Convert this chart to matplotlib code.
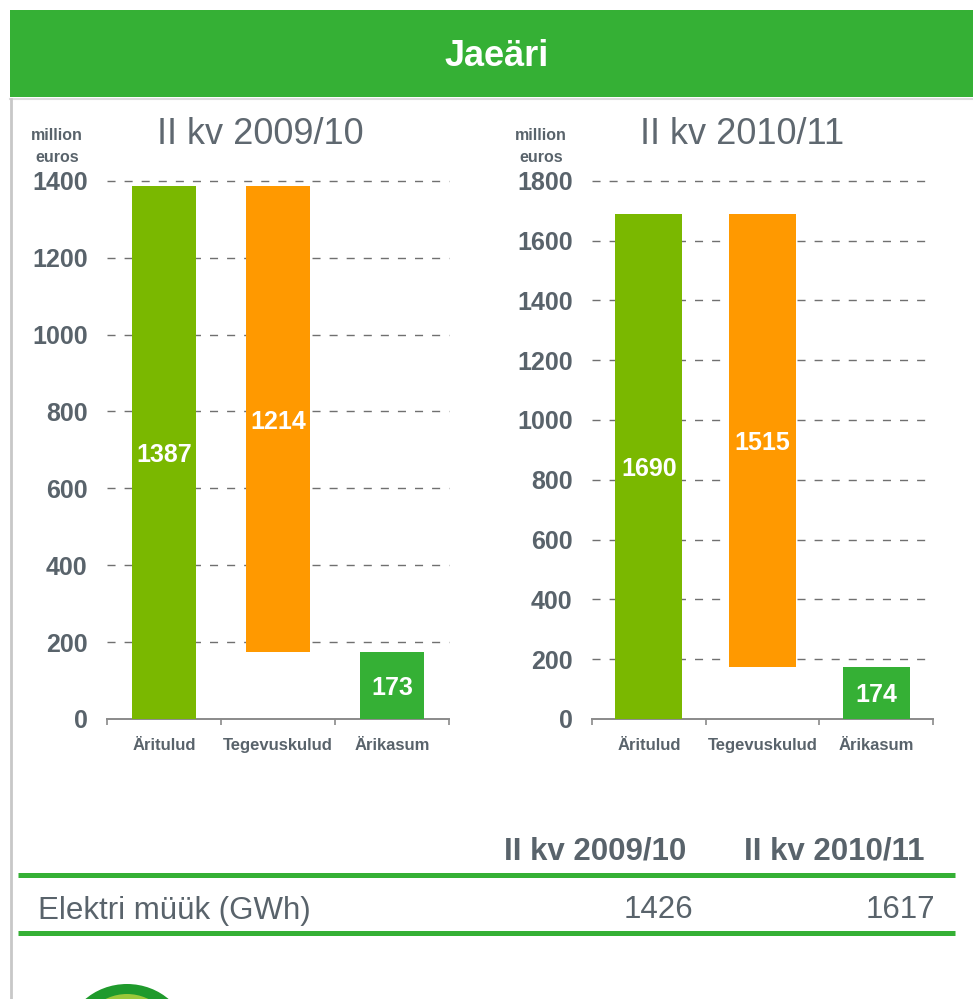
import matplotlib
matplotlib.use("Agg")
from matplotlib import pyplot as plt
from matplotlib.patches import Rectangle, Ellipse

plt.rcParams["font.family"] = ["Liberation Sans", "DejaVu Sans"]

# data
categories = ["Äritulud", "Tegevuskulud", "Ärikasum"]
periods = ["II kv 2009/10", "II kv 2010/11"]
revenue = [1387, 1690]
costs = [1214, 1515]
profit = [173, 174]
y_max = [1400, 1800]
table_label = "Elektri müük (GWh)"
table_values = [1426, 1617]

# colours
HEADER_GREEN = "#35B035"
BAR_GREEN = "#7AB800"
BAR_ORANGE = "#FF9900"
BAR_DKGREEN = "#35B035"
TEXT_GRAY = "#59636B"

W, H = 973, 999
fig = plt.figure(figsize=(W / 100, H / 100), dpi=100)

# decoration layer in pixel coordinates
deco = fig.add_axes([0, 0, 1, 1], zorder=0)
deco.set_xlim(0, W)
deco.set_ylim(H, 0)
deco.axis("off")

deco.add_patch(Rectangle((10, 10), W - 10, 87, color=HEADER_GREEN, lw=0))
deco.text(497, 57, "Jaeäri", color="white", fontsize=26, fontweight="bold",
          ha="center", va="center")
deco.plot([10, W], [99, 99], color="#DDDDDD", lw=1.5)
deco.plot([11, 11], [99, H], color="#C8C8C8", lw=2)

# small logo at the bottom
deco.add_patch(Ellipse((127, 1040), 122, 112, color="#1F9A2C", lw=0))
deco.add_patch(Ellipse((127, 1046), 100, 104, color="#9CC83A", lw=0))


def draw_chart(rect, idx, ylab_x, title_x):
    ax = fig.add_axes(rect, zorder=2)
    ax.patch.set_alpha(0)
    x = list(range(len(categories)))
    bottoms = [0, revenue[idx] - costs[idx], 0]
    heights = [revenue[idx], costs[idx], profit[idx]]
    colors = [BAR_GREEN, BAR_ORANGE, BAR_DKGREEN]
    width = 0.56 if idx == 0 else 0.59
    ax.bar(x, heights, bottom=bottoms, width=width, color=colors, zorder=3)
    for xi, b, h in zip(x, bottoms, heights):
        ax.text(xi, b + h / 2, str(h), color="white", fontsize=18,
                fontweight="bold", ha="center", va="center_baseline", zorder=4)

    ax.set_xlim(-0.5, 2.5)
    ax.set_ylim(0, y_max[idx])
    ax.set_yticks(range(0, y_max[idx] + 1, 200))
    ax.tick_params(axis="y", length=0, pad=14, labelsize=18,
                   labelcolor=TEXT_GRAY)
    for lab in ax.get_yticklabels():
        lab.set_fontweight("bold")
    for yv in range(200, y_max[idx] + 1, 200):
        ax.axhline(yv, color="#707070", lw=1, dashes=(5.8, 6.5), zorder=1,
                   clip_on=False)

    ax.set_xticks([-0.5, 0.5, 1.5, 2.5])
    ax.set_xticklabels([])
    ax.set_xticks(x, minor=True)
    ax.set_xticklabels(categories, minor=True)
    ax.tick_params(axis="x", which="major", direction="out", length=4,
                   width=1.2, color="#8A8A8A")
    ax.tick_params(axis="x", which="minor", length=0, pad=14, labelsize=12,
                   labelcolor=TEXT_GRAY)
    for lab in ax.get_xticklabels(minor=True):
        lab.set_fontweight("bold")

    for s in ["left", "right", "top"]:
        ax.spines[s].set_visible(False)
    ax.spines["bottom"].set_color("#8A8A8A")
    ax.spines["bottom"].set_linewidth(1.4)

    deco.text(ylab_x, 135, "million", color=TEXT_GRAY, fontsize=11.5,
              fontweight="bold", ha="center", va="center")
    deco.text(ylab_x, 158, "euros", color=TEXT_GRAY, fontsize=11.5,
              fontweight="bold", ha="center", va="center")
    deco.text(title_x, 131, periods[idx], color="#5F6870", fontsize=26,
              ha="center", va="center_baseline")
    return ax


top_px, bot_px = 180.7, 719
draw_chart([107 / W, 1 - bot_px / H, 342 / W, (bot_px - top_px) / H], 0, 57, 260)
draw_chart([592 / W, 1 - bot_px / H, 341 / W, (bot_px - top_px) / H], 1, 541, 742)

# table
deco.text(686, 848, periods[0], color=TEXT_GRAY, fontsize=22.5,
          fontweight="bold", ha="right", va="center_baseline")
deco.text(925, 848, periods[1], color=TEXT_GRAY, fontsize=22.5,
          fontweight="bold", ha="right", va="center_baseline")
deco.plot([18, 955], [875, 875], color=HEADER_GREEN, lw=3.6,
          solid_capstyle="butt")
deco.plot([18, 955], [933, 933], color=HEADER_GREEN, lw=3.6,
          solid_capstyle="butt")
deco.text(38, 907, table_label, color=TEXT_GRAY, fontsize=22.5,
          ha="left", va="center_baseline")
deco.text(693, 907, str(table_values[0]), color=TEXT_GRAY, fontsize=22.5,
          ha="right", va="center_baseline")
deco.text(935, 907, str(table_values[1]), color=TEXT_GRAY, fontsize=22.5,
          ha="right", va="center_baseline")

fig.savefig("out.png", dpi=100)
